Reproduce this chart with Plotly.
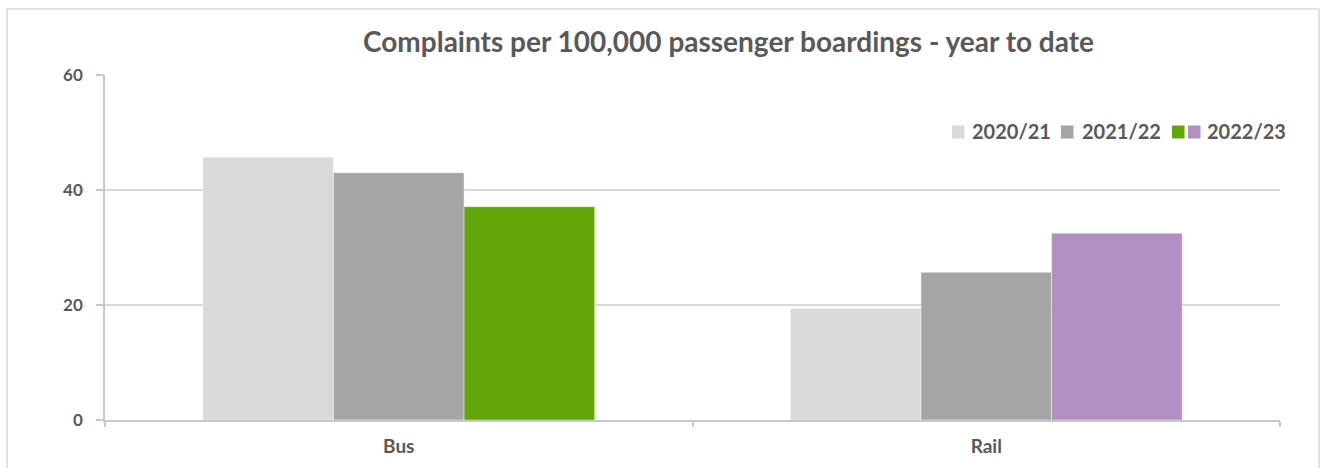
import plotly.graph_objects as go

categories = ["Bus", "Rail"]
years = ["2020/21", "2021/22", "2022/23"]
v_2020_21 = [45.7, 19.4]
v_2021_22 = [43.0, 25.7]
v_2022_23 = [37.1, 32.5]
y_ticks = [0, 20, 40, 60]

c_2020 = "#d9d9d9"
c_2021 = "#a5a5a5"
c_bus23 = "#63a60a"
c_rail23 = "#b08fc2"
text_col = "#595959"
font_family = "Lato"

W, H = 1323, 468
L, R, T, B = 105, 43, 75, 48
pw = W - L - R
ph = H - T - B

fig = go.Figure()
fig.add_trace(go.Bar(x=categories, y=v_2020_21, name=years[0], offsetgroup="a",
                     marker=dict(color=c_2020, line=dict(width=0.75, color="rgba(255,255,255,0.6)"))))
fig.add_trace(go.Bar(x=categories, y=v_2021_22, name=years[1], offsetgroup="b",
                     marker=dict(color=c_2021, line=dict(width=0.75, color="rgba(255,255,255,0.6)"))))
fig.add_trace(go.Bar(x=categories, y=v_2022_23, name=years[2], offsetgroup="c",
                     marker=dict(color=[c_bus23, c_rail23], line=dict(width=0.75, color="rgba(255,255,255,0.6)"))))


def px_x(p):
    return (p - L) / pw


def px_y(p):
    return (H - B - p) / ph


shapes = []
annotations = []
# outer frame
shapes.append(dict(type="rect", xref="paper", yref="paper",
                   x0=px_x(7), x1=px_x(1319), y0=px_y(480), y1=px_y(9),
                   line=dict(color="#d9d9d9", width=1.5), fillcolor="rgba(0,0,0,0)", layer="below"))

# manual legend
legend_items = [
    ([(952, c_2020)], 970, years[0]),
    ([(1061, c_2021)], 1080, years[1]),
    ([(1172, c_bus23), (1188, c_rail23)], 1205, years[2]),
]
for squares, tx, label in legend_items:
    for sx, col in squares:
        shapes.append(dict(type="rect", xref="paper", yref="paper",
                           x0=px_x(sx), x1=px_x(sx + 12.5), y0=px_y(138.5), y1=px_y(125.5),
                           line=dict(width=0), fillcolor=col))
    annotations.append(dict(xref="paper", yref="paper", x=px_x(tx), y=px_y(131),
                            xanchor="left", yanchor="middle", showarrow=False,
                            text=label, font=dict(family=font_family, size=20, color=text_col,
                                                  weight="bold")))

fig.update_layout(
    width=W, height=H,
    margin=dict(l=L, r=R, t=T, b=B),
    paper_bgcolor="white", plot_bgcolor="white",
    barmode="group", bargap=0.333, bargroupgap=0,
    showlegend=False,
    title=dict(text="<b>Complaints per 100,000 passenger boardings - year to date</b>",
               x=728.5 / W, xref="container", xanchor="center",
               y=1 - 42 / H, yref="container", yanchor="middle",
               font=dict(family=font_family, size=28, color=text_col)),
    font=dict(family=font_family, color=text_col),
    shapes=shapes,
    annotations=annotations,
)
fig.update_yaxes(range=[0, 60], tickvals=y_ticks, showgrid=True, gridcolor="#d9d9d9", gridwidth=1.5,
                 zeroline=False, showline=True, linecolor="#c8c8c8", linewidth=1.5,
                 ticks="outside", ticklen=7, tickcolor="#c8c8c8", tickwidth=1.5,
                 ticklabelstandoff=10,
                 tickfont=dict(family=font_family, size=17, color=text_col, weight="bold"))
fig.update_xaxes(showline=True, linecolor="#c8c8c8", linewidth=1.5,
                 ticks="outside", tickson="boundaries", ticklen=5, tickcolor="#c8c8c8", tickwidth=1.5,
                 ticklabelstandoff=8,
                 tickfont=dict(family=font_family, size=19, color=text_col, weight="bold"))

fig.write_html("out.html")
